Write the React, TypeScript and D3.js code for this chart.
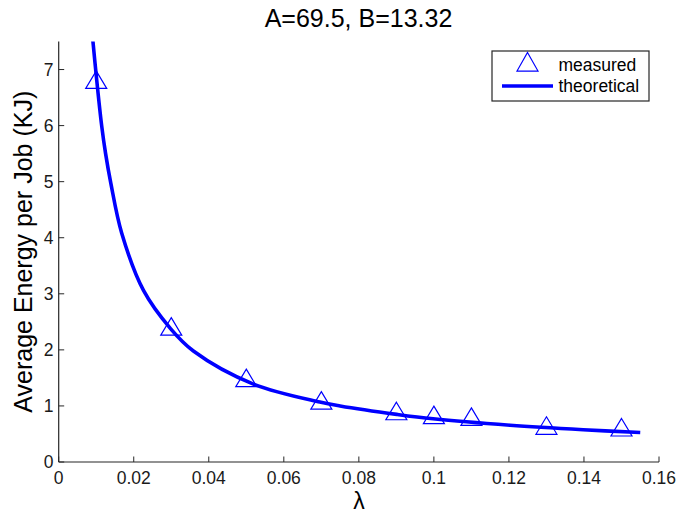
import React from "react";
import * as d3 from "d3";

const chartTitle = "A=69.5, B=13.32";
const xLabel = "λ";
const yLabel = "Average Energy per Job (KJ)";
const seriesNames = ["measured", "theoretical"];

const lambdaMeasured = [0.01, 0.03, 0.05, 0.07, 0.09, 0.1, 0.11, 0.13, 0.15];
const energyMeasured = [6.82, 2.42, 1.5, 1.1, 0.91, 0.84, 0.81, 0.65, 0.62];

const lambdaTheory = [0.0091, 0.01, 0.01145, 0.0125, 0.0139, 0.0168, 0.0226, 0.0298, 0.0359, 0.0519, 0.0696, 0.075, 0.0901, 0.0998, 0.1203, 0.1398, 0.155];
const energyTheory = [7.52, 6.9, 6.0, 5.5, 4.97, 4.08, 3.06, 2.38, 1.98, 1.39, 1.07, 1.0, 0.85, 0.77, 0.655, 0.575, 0.525];

const xTicks = [0, 0.02, 0.04, 0.06, 0.08, 0.1, 0.12, 0.14, 0.16];
const xTickLabels = ["0", "0.02", "0.04", "0.06", "0.08", "0.1", "0.12", "0.14", "0.16"];
const yTicks = [0, 1, 2, 3, 4, 5, 6, 7];
const yTickLabels = ["0", "1", "2", "3", "4", "5", "6", "7"];

const W = 677;
const H = 512;
const BLUE = "#0000ff";
const AXIS = "#262626";
const FONT = "'Liberation Sans', Arial, Helvetica, sans-serif";

function tri(cx: number, cy: number, w: number, h: number) {
  return `M${cx},${cy - h / 2}L${cx + w / 2},${cy + h / 2}L${cx - w / 2},${cy + h / 2}Z`;
}

export default function App() {
  const x = d3.scaleLinear().domain([0, 0.16]).range([58.7, 659]);
  const y = d3.scaleLinear().domain([0, 7.5]).range([462, 41.5]);

  const theory = lambdaTheory.map((l, i) => [l, energyTheory[i]] as [number, number]);
  const line = d3
    .line<[number, number]>()
    .x((d) => x(d[0]))
    .y((d) => y(d[1]))
    .curve(d3.curveCatmullRom.alpha(0.5));

  const x0 = x(0);
  const x1 = x(0.16);
  const y0 = y(0);
  const yTop = y(7.5);
  const tickLen = 5.5;

  return (
    <svg
      width={W}
      height={H}
      style={{ position: "absolute", left: 0, top: 0, background: "#fff" }}
      fontFamily={FONT}
    >
      <rect x={0} y={0} width={W} height={H} fill="#fff" />
      <defs>
        <clipPath id="plotClip">
          <rect x={x0} y={yTop} width={x1 - x0} height={y0 - yTop} />
        </clipPath>
      </defs>

      {/* axes */}
      <line x1={x0} y1={y0} x2={x1} y2={y0} stroke={AXIS} strokeWidth={1.2} />
      <line x1={x0} y1={y0} x2={x0} y2={yTop} stroke={AXIS} strokeWidth={1.2} />

      {xTicks.map((t, i) => (
        <g key={"xt" + i}>
          <line x1={x(t)} y1={y0} x2={x(t)} y2={y0 - tickLen} stroke={AXIS} strokeWidth={1} />
          <text x={x(t)} y={484} textAnchor="middle" fontSize={17.5} fill="#1a1a1a">
            {xTickLabels[i]}
          </text>
        </g>
      ))}
      {yTicks.map((t, i) => (
        <g key={"yt" + i}>
          <line x1={x0} y1={y(t)} x2={x0 + tickLen} y2={y(t)} stroke={AXIS} strokeWidth={1} />
          <text x={53.5} y={y(t) + 6.2} textAnchor="end" fontSize={17.5} fill="#1a1a1a">
            {yTickLabels[i]}
          </text>
        </g>
      ))}

      {/* measured markers */}
      {lambdaMeasured.map((l, i) => (
        <path
          key={"m" + i}
          d={tri(x(l), y(energyMeasured[i]), 21, 17.5)}
          fill="none"
          stroke={BLUE}
          strokeWidth={1.2}
        />
      ))}

      {/* theoretical curve */}
      <path
        d={line(theory) || ""}
        fill="none"
        stroke={BLUE}
        strokeWidth={3.6}
        clipPath="url(#plotClip)"
      />

      {/* title and labels */}
      <text x={358.5} y={26.5} textAnchor="middle" fontSize={25} fill="#000">
        {chartTitle}
      </text>
      <text x={359} y={508.5} textAnchor="middle" fontSize={23} fill="#000">
        {xLabel}
      </text>
      <text
        transform={`translate(32,${(y0 + yTop) / 2}) rotate(-90)`}
        textAnchor="middle"
        fontSize={25}
        fill="#000"
      >
        {yLabel}
      </text>

      {/* legend */}
      <rect x={492} y={51} width={157} height={50} fill="#fff" stroke={AXIS} strokeWidth={1.2} />
      <path d={tri(527.5, 61.8, 21, 18.5)} fill="none" stroke={BLUE} strokeWidth={1.2} />
      <line x1={502} y1={86} x2={553} y2={86} stroke={BLUE} strokeWidth={3.6} />
      <text x={558.5} y={71} fontSize={17.5} fill="#000">
        {seriesNames[0]}
      </text>
      <text x={558.5} y={92} fontSize={17.5} fill="#000">
        {seriesNames[1]}
      </text>
    </svg>
  );
}
